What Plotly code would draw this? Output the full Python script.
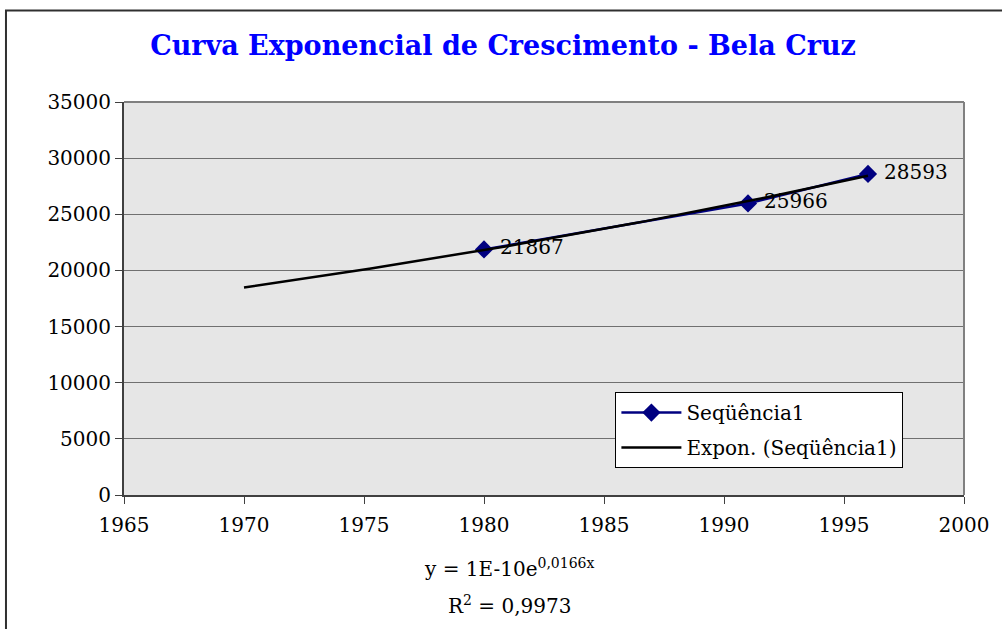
import numpy as np
import plotly.graph_objects as go

years = [1980, 1991, 1996]
population = [21867, 25966, 28593]
series_name = "Seqüência1"
trend_name = "Expon. (Seqüência1)"
title_text = "Curva Exponencial de Crescimento - Bela Cruz"
x_ticks = [1965, 1970, 1975, 1980, 1985, 1990, 1995, 2000]
y_ticks = [0, 5000, 10000, 15000, 20000, 25000, 30000, 35000]
y_tick_labels = [str(v) for v in y_ticks]
trend_start = 1970
equation_text = "y = 1E-10e<sup>0,0166x</sup>"
r2_text = "R<sup>2</sup> = 0,9973"

# exponential trendline fitted to the series (as the spreadsheet does)
b, ln_a = np.polyfit(years, np.log(population), 1)
tx = np.linspace(trend_start, years[-1], 60)
ty = np.exp(ln_a + b * tx)

FONT = "DejaVu Serif"
FS = 20

fig = go.Figure()
fig.add_trace(go.Scatter(
    x=years, y=population, name=series_name, legendgroup="a",
    mode="lines+markers+text",
    line=dict(color="#000080", width=2.5),
    marker=dict(symbol="diamond", size=14, color="#000080"),
    text=[" " + str(v) for v in population], textposition="middle right",
    textfont=dict(family=FONT, size=FS, color="black"),
))
fig.add_trace(go.Scatter(
    x=tx, y=ty, name=trend_name, mode="lines", legendgroup="b",
    line=dict(color="black", width=2.5),
))

fig.update_layout(
    width=1002, height=629,
    margin=dict(l=124, r=38, t=102, b=134),
    paper_bgcolor="white", plot_bgcolor="#e6e6e6",
    font=dict(family=FONT, size=FS, color="black"),
    title=dict(text="<b>" + title_text + "</b>", x=0.502, xanchor="center",
               y=0.928, yanchor="middle",
               font=dict(family=FONT, size=27, color="#0000ff")),
    showlegend=True,
    legend=dict(x=0.585, y=0.262, xanchor="left", yanchor="top",
                bgcolor="white", bordercolor="black", borderwidth=1,
                itemwidth=60, tracegroupgap=6,
                font=dict(family=FONT, size=FS)),
    xaxis=dict(range=[1965, 2000], tickvals=x_ticks, showgrid=False,
               showline=True, linecolor="#404040", linewidth=2,
               ticks="outside", ticklen=7, tickcolor="#404040",
               ticklabelstandoff=4,
               zeroline=False, mirror=False),
    yaxis=dict(range=[0, 35000], tickvals=y_ticks, ticktext=y_tick_labels,
               showgrid=True, gridcolor="#707070", gridwidth=1,
               showline=True, linecolor="#404040", linewidth=2,
               ticks="outside", ticklen=7, tickcolor="#404040",
               zeroline=False),
)

# plot area top/right border
fig.add_shape(type="line", xref="paper", yref="paper", x0=0, x1=1, y0=1, y1=1,
              line=dict(color="#808080", width=2))
fig.add_shape(type="line", xref="paper", yref="paper", x0=1, x1=1, y0=0, y1=1,
              line=dict(color="#808080", width=2))
# outer chart frame (cropped at right and bottom)
fig.add_shape(type="rect", xref="paper", yref="paper",
              x0=-0.1405, x1=1.06, y0=-0.40, y1=1.233,
              line=dict(color="#303030", width=2), layer="below")

fig.add_annotation(text=equation_text, xref="paper", yref="paper",
                   x=0.459, y=-0.223, showarrow=False,
                   font=dict(family=FONT, size=FS))
fig.add_annotation(text=r2_text, xref="paper", yref="paper",
                   x=0.459, y=-0.318, showarrow=False,
                   font=dict(family=FONT, size=FS))

fig.write_html("out.html",
               config={"displayModeBar": False},
               post_script="document.body.style.margin='0px';")
